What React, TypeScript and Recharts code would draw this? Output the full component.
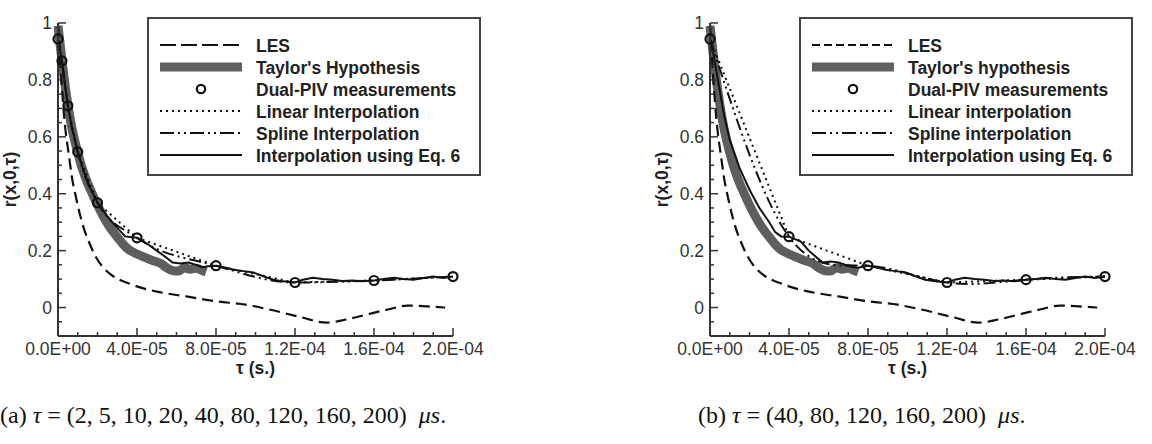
import React from 'react';
import { LineChart, Line, XAxis, YAxis, Legend } from 'recharts';

// ---------- data (tau in microseconds) ----------
const pivTauA = [0, 2, 5, 10, 20, 40, 80, 120, 160, 200];
const pivRA = [0.944, 0.867, 0.709, 0.547, 0.368, 0.245, 0.147, 0.088, 0.095, 0.109];
const pivTauB = [0, 40, 80, 120, 160, 200];
const pivRB = [0.944, 0.249, 0.147, 0.088, 0.098, 0.109];

const lesTau = [0, 1, 2, 3, 4, 5, 6, 7, 9, 11, 13, 16, 19, 23, 27, 31, 35, 42, 50, 65, 80, 95, 107, 122, 136, 146, 156, 167, 177, 187, 196];
const lesR = [1.0, 0.88, 0.77, 0.68, 0.61, 0.56, 0.51, 0.46, 0.39, 0.33, 0.28, 0.225, 0.18, 0.14, 0.115, 0.098, 0.087, 0.07, 0.056, 0.039, 0.022, 0.01, -0.007, -0.032, -0.053, -0.042, -0.025, -0.007, 0.007, 0.004, 0.0];

const taylorTau = [0, 2, 4, 6, 8, 10, 12, 14, 17, 20, 23, 26, 30, 33, 36, 40, 44, 48, 52, 55, 58, 61, 64, 67, 70, 73, 75];
const taylorR = [0.99, 0.87, 0.76, 0.67, 0.6, 0.545, 0.495, 0.455, 0.405, 0.36, 0.32, 0.285, 0.248, 0.222, 0.203, 0.188, 0.176, 0.165, 0.155, 0.14, 0.13, 0.128, 0.14, 0.135, 0.138, 0.13, 0.125];

const eqTauA = [0, 1, 2, 3, 5, 7, 10, 13, 16, 20, 25, 30, 34, 40, 45, 50, 55, 58, 62, 66, 70, 73, 76, 80, 85, 89, 94, 99, 104, 109, 114, 120, 124, 129, 134, 139, 144, 149, 154, 160, 165, 170, 175, 180, 185, 190, 195, 200];
const eqRA = [0.944, 0.905, 0.867, 0.81, 0.709, 0.635, 0.547, 0.48, 0.425, 0.368, 0.32, 0.28, 0.25, 0.245, 0.225, 0.2, 0.175, 0.158, 0.155, 0.158, 0.15, 0.142, 0.145, 0.147, 0.14, 0.133, 0.128, 0.123, 0.11, 0.098, 0.092, 0.088, 0.098, 0.105, 0.1, 0.098, 0.093, 0.095, 0.092, 0.095, 0.1, 0.105, 0.1, 0.098, 0.104, 0.109, 0.104, 0.109];

const eqTauB = [0, 2, 4, 7, 10, 15, 20, 25, 30, 33, 36, 40, 46, 50, 57, 61, 65, 71, 75, 80, 85, 89, 94, 99, 104, 109, 114, 120, 124, 129, 134, 139, 144, 149, 154, 160, 165, 170, 175, 180, 185, 190, 195, 200];
const eqRB = [0.944, 0.88, 0.8, 0.68, 0.59, 0.49, 0.414, 0.35, 0.3, 0.265, 0.25, 0.249, 0.232, 0.2, 0.158, 0.162, 0.158, 0.144, 0.14, 0.147, 0.14, 0.133, 0.128, 0.123, 0.11, 0.098, 0.092, 0.088, 0.098, 0.105, 0.1, 0.098, 0.093, 0.095, 0.092, 0.098, 0.1, 0.105, 0.1, 0.098, 0.104, 0.109, 0.104, 0.109];

const xTicks = [0, 10, 20, 30, 40, 50, 60, 70, 80, 90, 100, 110, 120, 130, 140, 150, 160, 170, 180, 190, 200];
const xTickLabels: Record<number, string> = { 0: '0.0E+00', 40: '4.0E-05', 80: '8.0E-05', 120: '1.2E-04', 160: '1.6E-04', 200: '2.0E-04' };
const yTicks = [-0.05, 0, 0.05, 0.1, 0.15, 0.2, 0.25, 0.3, 0.35, 0.4, 0.45, 0.5, 0.55, 0.6, 0.65, 0.7, 0.75, 0.8, 0.85, 0.9, 0.95, 1];
const yTickLabels: Record<string, string> = { '0': '0', '0.2': '0.2', '0.4': '0.4', '0.6': '0.6', '0.8': '0.8', '1': '1' };

const legendA = ['LES', "Taylor's Hypothesis", 'Dual-PIV measurements', 'Linear Interpolation', 'Spline Interpolation', 'Interpolation using Eq. 6'];
const legendB = ['LES', "Taylor's hypothesis", 'Dual-PIV measurements', 'Linear interpolation', 'Spline interpolation', 'Interpolation using Eq. 6'];

const xTitle = 'τ (s.)';
const yTitle = 'r(x,0,τ)';

const zip = (t: number[], r: number[]) => t.map((v, i) => ({ t: v, r: r[i] }));

const SANS = '"Liberation Sans", Arial, Helvetica, sans-serif';
const AX = '#333';

const XTick = (props: any) => {
  const { x, y, payload } = props;
  const v = payload.value;
  const label = xTickLabels[v];
  const major = label !== undefined;
  return (
    <g>
      <line x1={x} x2={x} y1={y} y2={y - (major ? 8 : 4)} stroke={AX} strokeWidth={1.5} />
      {major && (
        <text x={x} y={y + 19} textAnchor="middle" fontSize={17.5} fill="#333" fontFamily={SANS}>{label}</text>
      )}
    </g>
  );
};

const YTick = (props: any) => {
  const { x, y, payload } = props;
  const v = payload.value;
  const label = yTickLabels[String(Math.round(v * 100) / 100)];
  const major = label !== undefined;
  return (
    <g>
      <line x1={x} x2={x + (major ? 8 : 4)} y1={y} y2={y} stroke={AX} strokeWidth={1.5} />
      {major && (
        <text x={x - 6} y={y + 6} textAnchor="end" fontSize={17.5} fill="#333" fontFamily={SANS}>{label}</text>
      )}
    </g>
  );
};

const XTitle = (props: any) => {
  const vb = props.viewBox;
  return (
    <text x={vb.x + vb.width / 2} y={vb.y + 38} textAnchor="middle" fontSize={17.5} fontWeight="bold" fill="#222" fontFamily={SANS}>{xTitle}</text>
  );
};

const YTitle = (props: any) => {
  const vb = props.viewBox;
  const cx = vb.x + vb.width - 42;
  const cy = vb.y + vb.height / 2;
  return (
    <text x={cx} y={cy} transform={`rotate(-90 ${cx} ${cy})`} textAnchor="middle" fontSize={17.5} fontWeight="bold" fill="#222" fontFamily={SANS}>{yTitle}</text>
  );
};

const LegendBox = ({ labels, lesDash }: { labels: string[]; lesDash: string }) => {
  const rows = [28, 50, 72, 94, 116, 138];
  const x1 = 13, x2 = 95, tx = 109;
  return (
    <svg width={334} height={159} style={{ display: 'block' }}>
      <rect x={1} y={1} width={332} height={157} fill="#fff" stroke="#444" strokeWidth={2} />
      <line x1={x1} x2={x2} y1={rows[0]} y2={rows[0]} stroke="#111" strokeWidth={2.2} strokeDasharray={lesDash} />
      <line x1={x1} x2={x2} y1={rows[1]} y2={rows[1]} stroke="#606060" strokeWidth={9} />
      <circle cx={(x1 + x2) / 2} cy={rows[2]} r={4.2} fill="none" stroke="#111" strokeWidth={2.2} />
      <line x1={x1} x2={x2} y1={rows[3]} y2={rows[3]} stroke="#111" strokeWidth={2} strokeDasharray="2 4" />
      <line x1={x1} x2={x2} y1={rows[4]} y2={rows[4]} stroke="#111" strokeWidth={2.2} strokeDasharray="14 4 2 4 2 4" />
      <line x1={x1} x2={x2} y1={rows[5]} y2={rows[5]} stroke="#111" strokeWidth={2.2} />
      {labels.map((l, i) => (
        <text key={i} x={tx} y={rows[i] + 6.5} fontSize={17.5} fontWeight="bold" fill="#222" fontFamily={SANS}>{l}</text>
      ))}
    </svg>
  );
};

type PanelProps = {
  pivTau: number[]; pivR: number[]; eqTau: number[]; eqR: number[];
  splineType: 'monotone' | 'natural'; labels: string[]; lesDash: string;
  marginLeft: number; marginRight: number; legendLeft: number;
};

const Panel = ({ pivTau, pivR, eqTau, eqR, splineType, labels, lesDash, marginLeft, marginRight, legendLeft }: PanelProps) => {
  const piv = zip(pivTau, pivR);
  const eq = zip(eqTau, eqR);
  const les = zip(lesTau, lesR);
  const taylor = zip(taylorTau, taylorR);
  return (
    <LineChart width={576} height={444} margin={{ top: 23, right: marginRight, bottom: 107, left: marginLeft - 1 }}>
      <XAxis dataKey="t" type="number" domain={[0, 200]} ticks={xTicks} interval={0} height={1}
        tickSize={0} tickMargin={0} tick={<XTick />} axisLine={{ stroke: AX, strokeWidth: 2 }} tickLine={false}
        label={<XTitle />} />
      <YAxis type="number" domain={[-0.1, 1]} ticks={yTicks} interval={0} width={1}
        tickSize={0} tickMargin={0} tick={<YTick />} axisLine={{ stroke: AX, strokeWidth: 2 }} tickLine={false}
        label={<YTitle />} />
      <Legend layout="vertical" align="center" verticalAlign="middle"
        wrapperStyle={{ position: 'absolute', left: legendLeft, top: 17, width: 334, height: 159 }}
        content={() => <LegendBox labels={labels} lesDash={lesDash} />} />
      <Line data={taylor} dataKey="r" name={labels[1]} type="monotone" stroke="#5e5e5e" strokeWidth={9} dot={false} isAnimationActive={false} strokeLinejoin="round" strokeLinecap="butt" />
      <Line data={les} dataKey="r" name={labels[0]} type="monotone" stroke="#111" strokeWidth={2.2} strokeDasharray="11 6" dot={false} isAnimationActive={false} />
      <Line data={piv} dataKey="r" name={labels[3]} type="linear" stroke="#111" strokeWidth={2} strokeDasharray="2 4" dot={false} isAnimationActive={false} />
      <Line data={piv} dataKey="r" name={labels[4]} type={splineType} stroke="#111" strokeWidth={2} strokeDasharray="12 4 2 4 2 4" dot={false} isAnimationActive={false} />
      <Line data={eq} dataKey="r" name={labels[5]} type="linear" stroke="#111" strokeWidth={2} dot={false} isAnimationActive={false} />
      <Line data={piv} dataKey="r" name={labels[2]} type="linear" stroke="none" isAnimationActive={false}
        dot={{ r: 4.5, fill: 'none', stroke: '#111', strokeWidth: 2.2, clipDot: false }} activeDot={false} />
    </LineChart>
  );
};

const CaptionText = ({ x, tag, values }: { x: number; tag: string; values: string }) => (
  <text x={x} y={423} fontSize={24} fill="#111" fontFamily='"Liberation Serif", "DejaVu Serif", serif' style={{ whiteSpace: 'pre' }}>
    {`(${tag}) `}<tspan fontStyle="italic">τ</tspan>{` = (${values})  `}<tspan fontStyle="italic">μs</tspan>{'.'}
  </text>
);

const captionValuesA = '2, 5, 10, 20, 40, 80, 120, 160, 200';
const captionValuesB = '40, 80, 120, 160, 200';

export default function App() {
  return (
    <div style={{ position: 'absolute', left: 0, top: 0, width: 1152, height: 444, background: '#fff', overflow: 'hidden' }}>
      <div style={{ position: 'absolute', left: 0, top: 0 }}>
        <Panel pivTau={pivTauA} pivR={pivRA} eqTau={eqTauA} eqR={eqRA} splineType="monotone" labels={legendA} lesDash="16 5"
          marginLeft={58} marginRight={123} legendLeft={147} />
      </div>
      <div style={{ position: 'absolute', left: 576, top: 0 }}>
        <Panel pivTau={pivTauB} pivR={pivRB} eqTau={eqTauB} eqR={eqRB} splineType="natural" labels={legendB} lesDash="8 4"
          marginLeft={134} marginRight={47} legendLeft={223} />
      </div>
      <svg width={1152} height={444} style={{ position: 'absolute', left: 0, top: 0, pointerEvents: 'none' }}>
        <CaptionText x={0} tag="a" values={captionValuesA} />
        <CaptionText x={698} tag="b" values={captionValuesB} />
      </svg>
    </div>
  );
}
